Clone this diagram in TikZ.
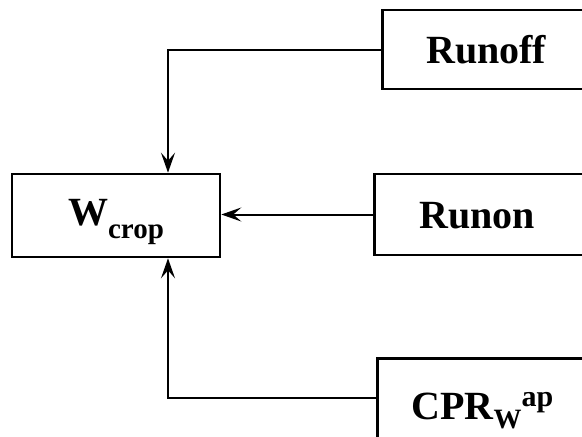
\documentclass[tikz,border=0pt]{standalone}
\usepackage{fontspec}
\setmainfont{Liberation Serif}
\usetikzlibrary{arrows.meta,calc}
\begin{document}
\begin{tikzpicture}[x=1pt,y=-1pt,
  box/.style={draw=black, line width=2.6pt, fill=white, font=\fontsize{40}{48}\selectfont\bfseries},
  arr/.style={line width=2pt, -{Stealth[length=20pt,width=14pt,inset=8pt]}}]
\useasboundingbox (0,0) rectangle (582,437);
\clip (0,0) rectangle (582,437);
\node[box, minimum width=208pt, minimum height=83pt, inner sep=0pt,
      text height=27pt, text depth=8pt] (wcrop) at (116,215.5)
  {W\raisebox{-13pt}{\fontsize{29}{31}\selectfont crop}};
\node[box, anchor=west, inner xsep=44pt, inner ysep=0pt, minimum height=79pt,
      text height=28pt, text depth=0pt] (runoff) at (381,49.5)
  {Runoff\hspace*{90pt}};
\node[box, anchor=west, inner xsep=45pt, inner ysep=0pt, minimum height=81pt,
      text height=27pt, text depth=0pt] (runon) at (373,214.5)
  {Runon\hspace*{90pt}};
\node[box, anchor=north west, inner xsep=34pt, inner ysep=33pt, text height=28pt, text depth=10pt] (cpr) at (376,357)
  {CPR\raisebox{-9pt}{\fontsize{28}{30}\selectfont W}\raisebox{13pt}{\fontsize{30}{32}\selectfont ap}\hspace*{90pt}};
\draw[arr] (runoff.west) -| ([xshift=52pt]wcrop.north);
\draw[arr] (runon.west) -- (runon.west -| wcrop.east);
\draw[arr] ([yshift=-41pt]cpr.north west) -| ([xshift=52pt]wcrop.south);
\end{tikzpicture}
\end{document}
